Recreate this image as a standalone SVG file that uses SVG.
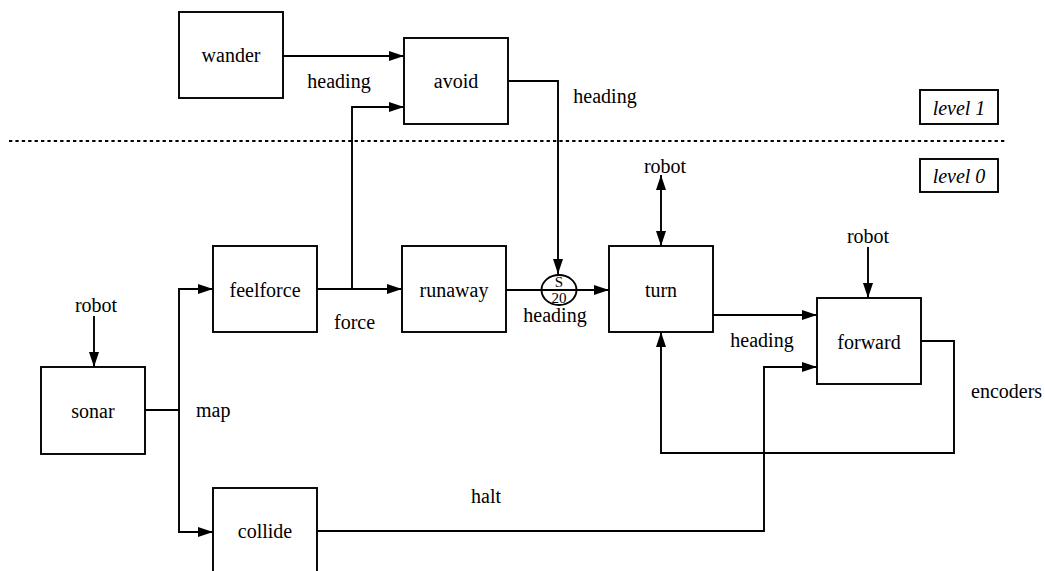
<svg xmlns="http://www.w3.org/2000/svg" width="1045" height="571" viewBox="0 0 1045 571" font-family="'Liberation Serif', 'Times New Roman', 'DejaVu Serif', serif">
<style>
.box{fill:#fff;stroke:#000;stroke-width:1.9}
.ln{fill:none;stroke:#000;stroke-width:1.9}
text{font-family:'Liberation Serif','Times New Roman','DejaVu Serif',serif;font-size:20px;fill:#000}
.c{text-anchor:middle}
.it{font-style:italic}
.sm{font-size:15px}
</style>
<defs>
<marker id="ah" markerUnits="userSpaceOnUse" markerWidth="16" markerHeight="11" refX="15" refY="5" orient="auto-start-reverse">
<path d="M0,0 L15,5 L0,10 z" fill="#000"/>
</marker>
</defs>
<rect width="1045" height="571" fill="#fff"/>
<line x1="9" y1="141" x2="1007" y2="141" stroke="#000" stroke-width="2" stroke-dasharray="3.3,3.1"/>
<g id="connectors">
<polyline class="ln" points="283,56 404,56" marker-end="url(#ah)"/>
<polyline class="ln" points="352,289 352,107 404,107" marker-end="url(#ah)"/>
<polyline class="ln" points="508,81 558,81 558,274" marker-end="url(#ah)"/>
<polyline class="ln" points="145,410 179,410"/>
<polyline class="ln" points="179,410 179,289 213,289" marker-end="url(#ah)"/>
<polyline class="ln" points="179,410 179,532 213,532" marker-end="url(#ah)"/>
<polyline class="ln" points="317,289 402,289" marker-end="url(#ah)"/>
<polyline class="ln" points="506,290 609,290" marker-end="url(#ah)"/>
<polyline class="ln" points="94,316 94,367" marker-end="url(#ah)"/>
<polyline class="ln" points="661,175 661,246" marker-start="url(#ah)" marker-end="url(#ah)"/>
<polyline class="ln" points="868,247 868,298" marker-end="url(#ah)"/>
<polyline class="ln" points="713,315 817,315" marker-end="url(#ah)"/>
<polyline class="ln" points="317,531 764,531 764,367 817,367" marker-end="url(#ah)"/>
<polyline class="ln" points="921,341 954,341 954,453 661,453 661,332" marker-end="url(#ah)"/>
</g>
<g id="s20">
<ellipse cx="559" cy="290" rx="17.5" ry="15" fill="none" stroke="#000" stroke-width="1.9"/>
<line x1="541" y1="290" x2="577" y2="290" stroke="#000" stroke-width="1.9"/>
<text class="c sm" x="559" y="287">S</text>
<text class="c sm" x="559" y="303">20</text>
</g>
<g id="wander"><rect class="box" x="179" y="12" width="104" height="86"/><text class="c" x="231" y="62">wander</text></g>
<g id="avoid"><rect class="box" x="404" y="38" width="104" height="86"/><text class="c" x="456" y="88">avoid</text></g>
<g id="feelforce"><rect class="box" x="213" y="246" width="104" height="86"/><text class="c" x="265" y="297">feelforce</text></g>
<g id="runaway"><rect class="box" x="402" y="246" width="104" height="86"/><text class="c" x="454" y="297">runaway</text></g>
<g id="turn"><rect class="box" x="609" y="246" width="104" height="86"/><text class="c" x="661" y="297">turn</text></g>
<g id="forward"><rect class="box" x="817" y="298" width="104" height="86"/><text class="c" x="869" y="349">forward</text></g>
<g id="sonar"><rect class="box" x="41" y="367" width="104" height="87"/><text class="c" x="93" y="418">sonar</text></g>
<g id="collide"><rect class="box" x="213" y="488" width="104" height="100"/><text class="c" x="265" y="538">collide</text></g>
<g id="level1"><rect class="box" x="920" y="90" width="78" height="34"/><text class="c it" x="959" y="115">level 1</text></g>
<g id="level0"><rect class="box" x="920" y="159" width="78" height="33"/><text class="c it" x="959" y="183">level 0</text></g>
<g id="labels">
<text class="c" x="339" y="88">heading</text>
<text class="c" x="605" y="103">heading</text>
<text class="c" x="96" y="312">robot</text>
<text x="196" y="417">map</text>
<text x="334" y="329">force</text>
<text class="c" x="555" y="322">heading</text>
<text class="c" x="665" y="173">robot</text>
<text class="c" x="868" y="243">robot</text>
<text class="c" x="762" y="347">heading</text>
<text x="971" y="398">encoders</text>
<text x="471" y="503">halt</text>
</g>
</svg>
